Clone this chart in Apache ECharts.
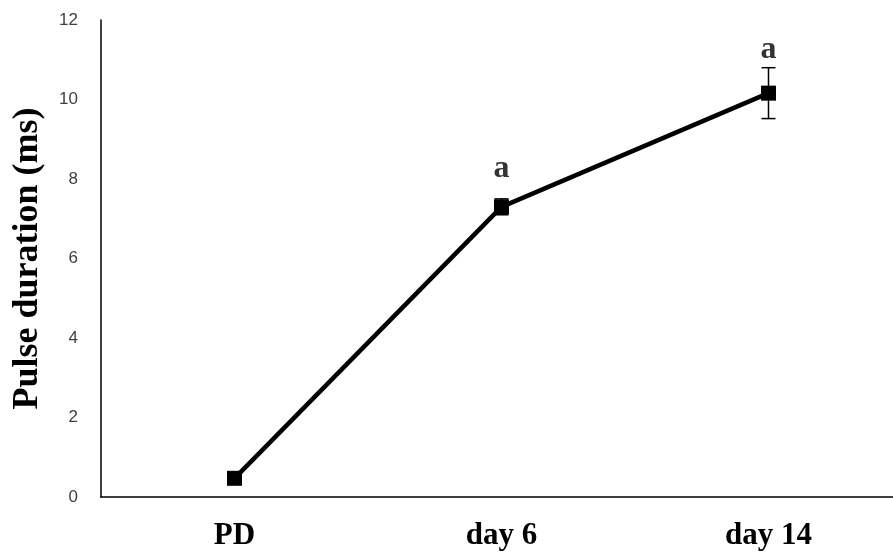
<!DOCTYPE html>
<html>
<head>
<meta charset="utf-8">
<script src="https://cdn.jsdelivr.net/npm/echarts@6/dist/echarts.min.js"></script>
<style>html,body{margin:0;padding:0;background:#fff}#c{width:893px;height:556px}</style>
</head>
<body>
<div id="c"></div>
<script>
const categories = ['PD', 'day 6', 'day 14'];
const means = [0.47, 7.3, 10.16];
const errors = [0.1, 0.2, 0.64];
const letters = ['', 'a', 'a'];
const letterY = [null, 8.25, 11.25];
const yTicks = { min: 0, max: 12, interval: 2 };

const chart = echarts.init(document.getElementById('c'));
chart.setOption({
  animation: false,
  backgroundColor: '#ffffff',
  grid: { left: 101, top: 20, bottom: 59, width: 801, containLabel: false, outerBoundsMode: 'none' },
  xAxis: {
    type: 'category',
    data: categories,
    boundaryGap: true,
    axisLine: { lineStyle: { color: '#000', width: 1.5 } },
    axisTick: { show: false },
    axisLabel: { color: '#000', fontFamily: 'Liberation Serif', fontWeight: 'bold', fontSize: 31, margin: 23 },
    splitLine: { show: false }
  },
  yAxis: {
    type: 'value',
    min: yTicks.min, max: yTicks.max, interval: yTicks.interval,
    name: 'Pulse duration (ms)',
    nameLocation: 'middle',
    nameGap: 55,
    nameTextStyle: { color: '#000', fontFamily: 'Liberation Serif', fontWeight: 'bold', fontSize: 36 },
    axisLine: { show: true, lineStyle: { color: '#000', width: 1.5 } },
    axisTick: { show: false },
    axisLabel: { color: '#404040', fontFamily: 'Liberation Sans', fontSize: 17, margin: 23 },
    splitLine: { show: false }
  },
  series: [
    {
      type: 'custom',
      z: 3,
      data: categories.map((c, i) => [i, means[i], errors[i]]),
      renderItem: function (params, api) {
        const x = api.value(0), m = api.value(1), e = api.value(2);
        const top = api.coord([x, m + e]);
        const bot = api.coord([x, m - e]);
        const hw = 7;
        const st = { stroke: '#000', lineWidth: 1.5 };
        return {
          type: 'group',
          children: [
            { type: 'line', shape: { x1: top[0], y1: top[1], x2: bot[0], y2: bot[1] }, style: st },
            { type: 'line', shape: { x1: top[0] - hw, y1: top[1], x2: top[0] + hw, y2: top[1] }, style: st },
            { type: 'line', shape: { x1: bot[0] - hw, y1: bot[1], x2: bot[0] + hw, y2: bot[1] }, style: st }
          ]
        };
      }
    },
    {
      type: 'line',
      z: 4,
      data: means,
      symbol: 'rect',
      symbolSize: 15,
      lineStyle: { color: '#000', width: 4.5 },
      itemStyle: { color: '#000' }
    },
    {
      type: 'scatter',
      z: 5,
      symbolSize: 0,
      data: categories.map((c, i) => [i, letterY[i]]),
      label: {
        show: true,
        position: 'inside',
        formatter: p => letters[p.dataIndex],
        color: '#000', fontFamily: 'Liberation Serif', fontWeight: 'bold', fontSize: 32
      }
    }
  ]
});
</script>
</body>
</html>
